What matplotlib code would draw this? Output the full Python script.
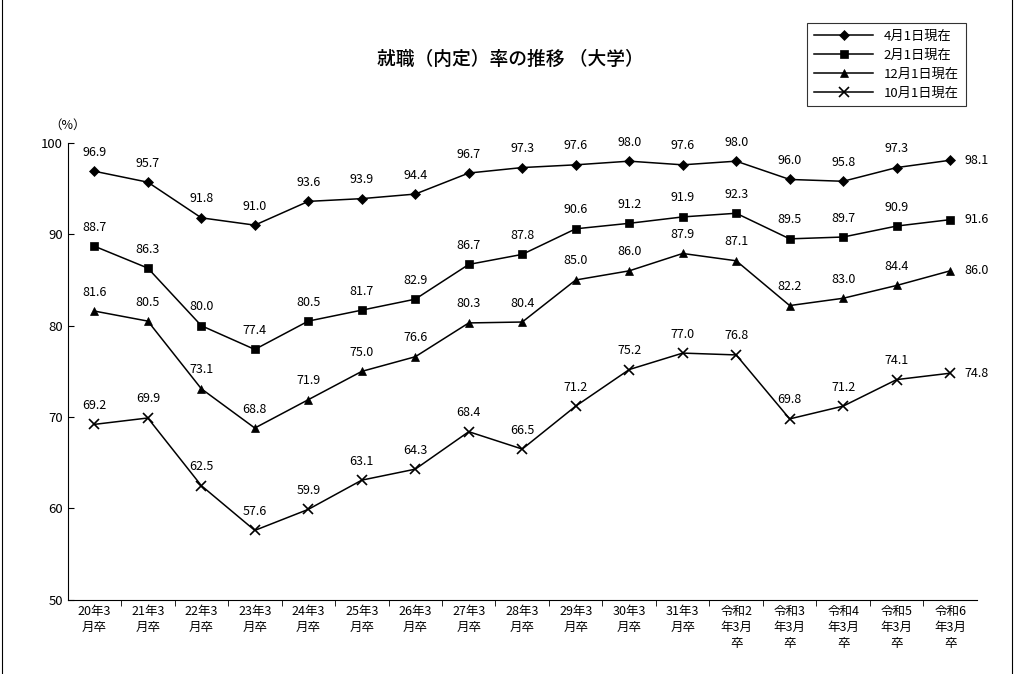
import matplotlib
matplotlib.use("Agg")
import matplotlib.pyplot as plt
from matplotlib.patches import Rectangle

plt.rcParams["font.family"] = "Noto Sans CJK JP"

categories = ["20年3\n月卒", "21年3\n月卒", "22年3\n月卒", "23年3\n月卒", "24年3\n月卒",
              "25年3\n月卒", "26年3\n月卒", "27年3\n月卒", "28年3\n月卒", "29年3\n月卒",
              "30年3\n月卒", "31年3\n月卒", "令和2\n年3月\n卒", "令和3\n年3月\n卒",
              "令和4\n年3月\n卒", "令和5\n年3月\n卒", "令和6\n年3月\n卒"]
apr = [96.9, 95.7, 91.8, 91.0, 93.6, 93.9, 94.4, 96.7, 97.3, 97.6, 98.0, 97.6, 98.0, 96.0, 95.8, 97.3, 98.1]
feb = [88.7, 86.3, 80.0, 77.4, 80.5, 81.7, 82.9, 86.7, 87.8, 90.6, 91.2, 91.9, 92.3, 89.5, 89.7, 90.9, 91.6]
dec = [81.6, 80.5, 73.1, 68.8, 71.9, 75.0, 76.6, 80.3, 80.4, 85.0, 86.0, 87.9, 87.1, 82.2, 83.0, 84.4, 86.0]
octo = [69.2, 69.9, 62.5, 57.6, 59.9, 63.1, 64.3, 68.4, 66.5, 71.2, 75.2, 77.0, 76.8, 69.8, 71.2, 74.1, 74.8]

series = [("4月1日現在", apr, "D", 5), ("2月1日現在", feb, "s", 6),
          ("12月1日現在", dec, "^", 6), ("10月1日現在", octo, "x", 7)]

fig = plt.figure(figsize=(10.24, 6.74), dpi=100)
fig.patches.append(Rectangle((0.002, -0.01), 0.986, 1.02, transform=fig.transFigure,
                             fill=False, edgecolor="black", linewidth=0.8))
ax = fig.add_axes([0.066, 0.110, 0.888, 0.678])

x = list(range(len(categories)))
for name, vals, mk, ms in series:
    ax.plot(x, vals, color="black", linewidth=1.1, marker=mk, markersize=ms,
            markeredgewidth=1.2 if mk == "x" else 0.5, label=name)
    for i, v in enumerate(vals):
        if i == len(vals) - 1:
            ax.annotate(f"{v:.1f}", (i, v), xytext=(10, 0), textcoords="offset points",
                        ha="left", va="center", fontsize=9)
        else:
            ax.annotate(f"{v:.1f}", (i, v), xytext=(0, 9), textcoords="offset points",
                        ha="center", va="bottom", fontsize=9)

ax.set_xlim(-0.5, len(categories) - 0.5)
ax.set_ylim(50, 100)
ax.set_yticks(range(50, 101, 10))
ax.tick_params(axis="y", labelsize=9.5, direction="in", length=4)
ax.set_xticks(x)
ax.set_xticklabels(categories, fontsize=9, linespacing=1.3, va="top")
ax.set_xticks([i + 0.5 for i in x[:-1]], minor=True)
ax.tick_params(axis="x", which="major", length=0, pad=4)
ax.tick_params(axis="x", which="minor", length=4, direction="out")
ax.spines["top"].set_visible(False)
ax.spines["right"].set_visible(False)
ax.text(-0.02, 1.03, "（%）", transform=ax.transAxes, fontsize=9, ha="left")

fig.text(0.498, 0.912, "就職（内定）率の推移 （大学）", ha="center", va="center",
         fontsize=13.5, fontweight="medium")

leg = fig.legend(loc="upper left", bbox_to_anchor=(0.782, 0.975), fontsize=9.5,
                 frameon=True, fancybox=False, edgecolor="black", handlelength=4.5,
                 borderpad=0.5, labelspacing=0.45)
leg.get_frame().set_linewidth(0.8)

fig.savefig("out.png", dpi=100)
